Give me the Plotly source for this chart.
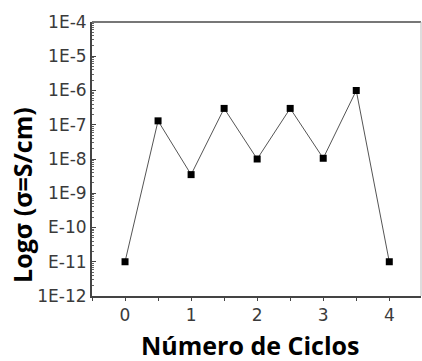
import plotly.graph_objects as go

cycles = [0, 0.5, 1, 1.5, 2, 2.5, 3, 3.5, 4]
conductivity = [1e-11, 1.3e-7, 3.5e-9, 3.0e-7, 1.0e-8, 3.0e-7, 1.05e-8, 1.0e-6, 1e-11]

y_tickvals = [1e-4, 1e-5, 1e-6, 1e-7, 1e-8, 1e-9, 1e-10, 1e-11, 1e-12]
y_ticktext = ["1E-4", "1E-5", "1E-6", "1E-7", "1E-8", "1E-9", "E-10", "E-11", "1E-12"]
x_tickvals = [0, 1, 2, 3, 4]

x_title = "Número de Ciclos"
y_title = "Logσ (σ=S/cm)"

fig = go.Figure()
fig.add_trace(go.Scatter(
    x=cycles, y=conductivity, mode="lines+markers",
    line=dict(color="#555555", width=1),
    marker=dict(symbol="square", size=7, color="black"),
    showlegend=False,
))

tick_font = dict(family="DejaVu Sans, sans-serif", size=17, color="#3a3a3a")
title_font = dict(family="Open Sans, Noto Sans, sans-serif", size=25, color="black")

fig.update_layout(
    width=422, height=361,
    margin=dict(l=92, r=1, t=22, b=65, autoexpand=False),
    plot_bgcolor="white", paper_bgcolor="white",
    xaxis=dict(
        range=[-0.5, 4.48], tickvals=x_tickvals, ticktext=[str(v) for v in x_tickvals],
        showgrid=False, zeroline=False, showline=True, linecolor="#444444", linewidth=2,
        ticks="outside", ticklen=3, tickcolor="#444444", tickfont=tick_font,
        minor=dict(dtick=0.5, ticks="outside", ticklen=3, tickcolor="#444444"),
        automargin=False,
    ),
    yaxis=dict(
        type="log", range=[-12, -4], tickvals=y_tickvals, ticktext=y_ticktext,
        showgrid=False, zeroline=False, showline=True, linecolor="#444444", linewidth=2,
        ticks="inside", ticklen=4, tickcolor="#444444", tickfont=tick_font,
        minor=dict(ticks="inside", ticklen=2, tickcolor="#666666", dtick="D1", showgrid=False),
        automargin=False,
    ),
    annotations=[
        dict(text="<b>" + x_title + "</b>", xref="paper", yref="paper", x=0.48, y=-0.179,
             xanchor="center", yanchor="middle", showarrow=False, font=title_font),
        dict(text="<b>" + y_title + "</b>", xref="paper", yref="paper", x=-0.215, y=0.37,
             xanchor="center", yanchor="middle", showarrow=False, font=title_font, textangle=-90),
    ],
    shapes=[
        dict(type="line", xref="paper", yref="paper", x0=0, x1=1, y0=1, y1=1,
             line=dict(color="#777777", width=2)),
        dict(type="line", xref="paper", yref="paper", x0=1, x1=1, y0=0, y1=1,
             line=dict(color="#bbbbbb", width=1)),
    ],
)

fig.write_html("out.html", config={"displayModeBar": False},
               post_script="document.body.style.margin='0';document.body.style.overflow='hidden';")
